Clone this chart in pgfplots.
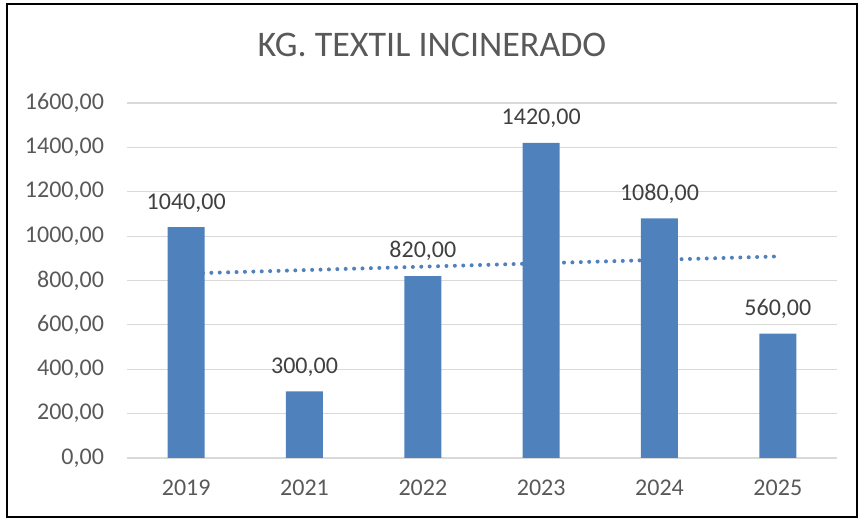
\documentclass[border=0pt]{standalone}
\usepackage{fontspec}
\setmainfont{Carlito}
\usepackage{pgfplots}
\pgfplotsset{compat=1.18}
\definecolor{barblue}{HTML}{4F81BD}
\definecolor{gridgray}{HTML}{D9D9D9}
\definecolor{txtgray}{HTML}{595959}
\definecolor{lblgray}{HTML}{404040}
\begin{document}
\begin{tikzpicture}[x=0.5pt,y=0.5pt]
% canvas 864 x 520 px (1px = 0.5pt)
\useasboundingbox (0,0) rectangle (864,520);
\draw[black, line width=0.9pt] (7,3) rectangle (857,516);
\node[text=txtgray, font=\fontsize{18}{21}\selectfont] at (432,475) {KG. TEXTIL INCINERADO};
\begin{axis}[
    at={(63.5pt,31pt)}, anchor=origin,
    scale only axis,
    width=355pt, height=177.5pt,
    xmin=0.5, xmax=6.5,
    ymin=0, ymax=1600,
    xtick={1,2,3,4,5,6},
    xticklabels={2019,2021,2022,2023,2024,2025},
    ytick={0,200,400,600,800,1000,1200,1400,1600},
    ymajorgrids=true,
    grid style={gridgray, line width=0.6pt},
    axis line style={draw=none},
    axis x line*=bottom,
    axis y line*=left,
    x axis line style={draw=gridgray, line width=0.6pt},
    major tick length=0pt,
    tick label style={text=txtgray, font=\fontsize{12}{14}\selectfont},
    xticklabel style={yshift=-7.5pt},
    yticklabel style={xshift=-8pt},
    /pgf/number format/assume math mode=true,
    yticklabel={\pgfmathprintnumber[fixed,fixed zerofill,precision=2,use comma,1000 sep={}]{\tick}},
    clip=false,
]
\addplot[barblue, line width=2pt, line cap=round, dash pattern=on 0pt off 4.2pt]
    coordinates {(1,831.43)(6,908.57)};
\addplot[ybar, bar width=18.5pt, fill=barblue, draw=none,
    nodes near coords,
    nodes near coords style={text=lblgray, font=\fontsize{12}{14}\selectfont, yshift=4pt,
        /pgf/number format/.cd, fixed, fixed zerofill, precision=2, use comma, 1000 sep={}, assume math mode=true},
    ]
    coordinates {(1,1040)(2,300)(3,820)(4,1420)(5,1080)(6,560)};
\end{axis}
\end{tikzpicture}
\end{document}
